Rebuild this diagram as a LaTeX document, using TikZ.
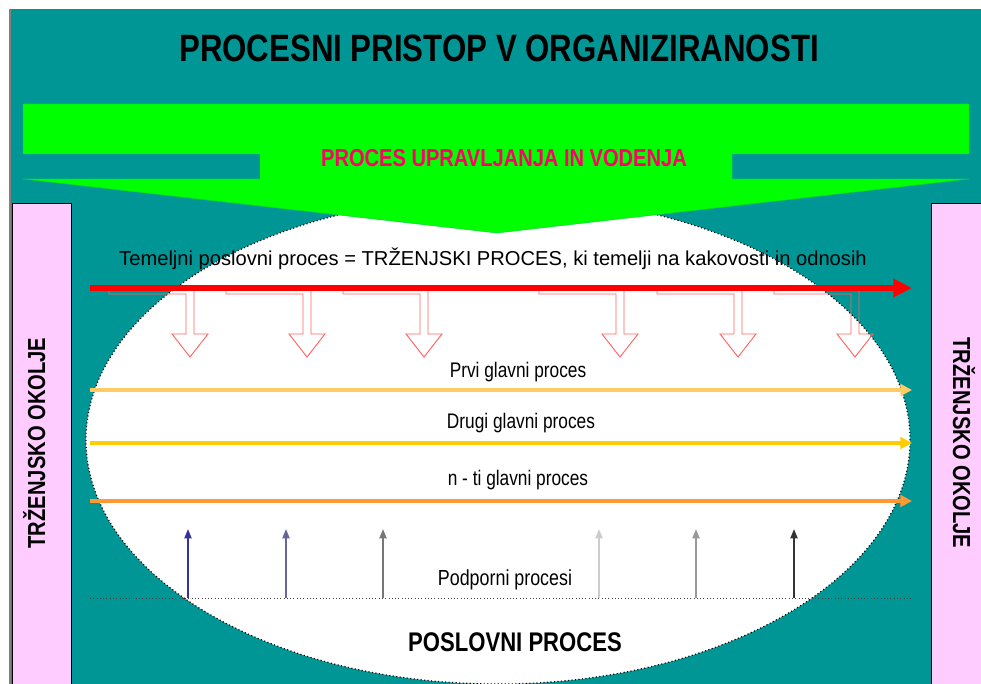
\documentclass[tikz,border=0pt]{standalone}
\usepackage{fontspec}
\setmainfont{Liberation Sans}
\newfontfamily\narrowfont[FakeStretch=0.82]{Liberation Sans}
\usetikzlibrary{arrows.meta}
\definecolor{morje}{RGB}{0,150,150}
\definecolor{zelena}{RGB}{0,255,0}
\definecolor{roza}{RGB}{255,204,255}
\definecolor{malina}{RGB}{255,0,102}
\definecolor{prvi}{RGB}{255,204,102}
\definecolor{drugi}{RGB}{255,204,0}
\definecolor{nti}{RGB}{255,153,51}
\definecolor{votlina}{RGB}{255,100,100}

\begin{document}
\begin{tikzpicture}[x=0.03cm,y=-0.03cm,
  lbl/.style={font=\narrowfont\fontsize{18}{18}\selectfont,anchor=base},
  krepko/.style={font=\narrowfont\bfseries\fontsize{#1}{#1}\selectfont,anchor=base},
  glavni/.style={line width=3.4pt,-{Triangle[length=10pt,width=10pt]}},
  podpora/.style={line width=1.6pt,-{Triangle[length=8pt,width=6pt]}},
  votla/.style={draw=votlina,line width=0.8pt},
  okolje/.style={draw=black,line width=0.8pt,fill=roza}]
\useasboundingbox (0,0) rectangle (981,684);
\fill[white] (0,0) rectangle (981,684);
\fill[morje] (11,9) rectangle (981,684);
\draw[gray,line width=1.5pt] (10,9) -- (10,684);
\draw[okolje] (12,203) rectangle (71,700);
\draw[okolje] (931,203) rectangle (990,700);
\draw[fill=white,dotted,line width=1pt] (498,440) ellipse [x radius=12.36cm,y radius=7.32cm];
\foreach \p in {190,307,424,620,738,855}
  \draw[votla] (\p-81,287) -- (\p+4,287) -- (\p+4,334) -- (\p+18,334) -- (\p,357)
    -- (\p-18,334) -- (\p-4,334) -- (\p-4,294) -- (\p-81,294) -- cycle;
\fill[zelena,draw=zelena!60!morje,line width=0.4pt] (23,104) -- (969,104) -- (969,154)
  -- (732,154) -- (732,179) -- (969,179) -- (497,233) -- (23,179) -- (260,179)
  -- (260,154) -- (23,154) -- cycle;

\node[krepko=32.5] (naslov) at (499,62) {PROCESNI PRISTOP V ORGANIZIRANOSTI};
\node[krepko=20.9,text=malina] (upravljanje) at (504,167) {PROCES UPRAVLJANJA IN VODENJA};
\node[lbl,font=\fontsize{17.2}{17.2}\selectfont] (temeljni) at (493,266) {Temeljni poslovni proces = TRŽENJSKI PROCES, ki temelji na kakovosti in odnosih};
\node[lbl] (prvitxt) at (518,377) {Prvi glavni proces};
\node[lbl] (drugitxt) at (521,428) {Drugi glavni proces};
\node[lbl] (ntitxt) at (518,485) {n - ti glavni proces};
\node[lbl,font=\narrowfont\fontsize{18.6}{18.6}\selectfont] (podporni) at (505,585) {Podporni procesi};
\node[krepko=23] (poslovni) at (515,651) {POSLOVNI PROCES};
\node[krepko=21,rotate=90] (okoljeL) at (45,443) {TRŽENJSKO OKOLJE};
\node[krepko=21,rotate=-90] (okoljeD) at (953,443) {TRŽENJSKO OKOLJE};

\coordinate (rdL) at (90,288);
\coordinate (rdD) at (912,288);
\draw[red,line width=5pt,-{Triangle[length=16pt,width=15pt]}] (rdL) -- (rdD);
\coordinate (prL) at (90,390);
\coordinate (prD) at (912,390);
\draw[glavni,prvi] (prL) -- (prD);
\coordinate (drL) at (90,443);
\coordinate (drD) at (912,443);
\draw[glavni,drugi] (drL) -- (drD);
\coordinate (ntL) at (90,501);
\coordinate (ntD) at (912,501);
\draw[glavni,nti] (ntL) -- (ntD);

\coordinate (bzL) at (90,598);
\coordinate (bzD) at (912,598);
\draw[dotted,black!75,line width=0.8pt] (bzL) -- (bzD);
\foreach \x/\c [count=\i] in {188/{rgb,255:red,51;green,51;blue,153},286/{rgb,255:red,102;green,102;blue,153},383/{rgb,255:red,119;green,119;blue,119},599/{rgb,255:red,204;green,204;blue,204},696/{rgb,255:red,153;green,153;blue,153},794/{rgb,255:red,51;green,51;blue,51}}{
  \coordinate (sp\i) at (\x,598);
  \coordinate (sz\i) at (\x,529);
  \draw[podpora,color=\c] (sp\i) -- (sz\i);
}
\end{tikzpicture}
\end{document}
